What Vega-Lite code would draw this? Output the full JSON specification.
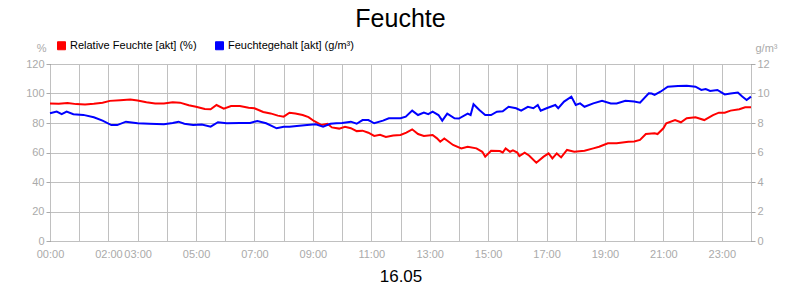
{
  "$schema": "https://vega.github.io/schema/vega-lite/v6.json",
  "width": 701,
  "height": 177,
  "autosize": {"type": "none"},
  "padding": {"left": 50, "top": 64, "right": 49, "bottom": 59},
  "background": "white",
  "config": {
    "view": {"stroke": "black", "strokeWidth": 1},
    "font": "Liberation Sans"
  },
  "title": {"text": "Feuchte", "fontSize": 25, "font": "Liberation Sans", "fontWeight": "normal", "color": "black", "anchor": "middle", "offset": 8},
  "datasets": {
    "rf": [
      {"h": 0.0, "v": 93.3}, {"h": 0.3, "v": 93.0}, {"h": 0.6, "v": 93.5}, {"h": 0.9, "v": 92.8}, {"h": 1.2, "v": 92.5},
      {"h": 1.5, "v": 93.0}, {"h": 1.8, "v": 93.8}, {"h": 2.05, "v": 95.0}, {"h": 2.4, "v": 95.5}, {"h": 2.75, "v": 96.0},
      {"h": 3.0, "v": 95.3}, {"h": 3.3, "v": 94.0}, {"h": 3.6, "v": 93.2}, {"h": 3.9, "v": 93.3}, {"h": 4.2, "v": 94.0},
      {"h": 4.45, "v": 93.8}, {"h": 4.75, "v": 92.0}, {"h": 5.0, "v": 91.0}, {"h": 5.3, "v": 89.5}, {"h": 5.5, "v": 89.3},
      {"h": 5.7, "v": 92.2}, {"h": 5.95, "v": 89.7}, {"h": 6.2, "v": 91.5}, {"h": 6.5, "v": 91.5}, {"h": 6.8, "v": 90.3},
      {"h": 7.0, "v": 90.0}, {"h": 7.3, "v": 87.5}, {"h": 7.55, "v": 86.5}, {"h": 7.8, "v": 85.0}, {"h": 8.0, "v": 84.3},
      {"h": 8.2, "v": 87.0}, {"h": 8.4, "v": 86.5}, {"h": 8.65, "v": 85.4}, {"h": 8.85, "v": 84.0}, {"h": 9.05, "v": 81.2},
      {"h": 9.3, "v": 78.6}, {"h": 9.5, "v": 79.5}, {"h": 9.65, "v": 77.0}, {"h": 9.9, "v": 76.2}, {"h": 10.1, "v": 77.5},
      {"h": 10.3, "v": 76.5}, {"h": 10.5, "v": 74.5}, {"h": 10.7, "v": 74.8}, {"h": 10.9, "v": 73.4}, {"h": 11.1, "v": 71.2},
      {"h": 11.3, "v": 72.0}, {"h": 11.5, "v": 70.5}, {"h": 11.75, "v": 71.5}, {"h": 12.0, "v": 71.9}, {"h": 12.2, "v": 73.5},
      {"h": 12.4, "v": 75.7}, {"h": 12.6, "v": 72.5}, {"h": 12.8, "v": 71.2}, {"h": 13.1, "v": 71.9}, {"h": 13.25, "v": 69.6},
      {"h": 13.36, "v": 67.3}, {"h": 13.5, "v": 69.5}, {"h": 13.8, "v": 65.1}, {"h": 14.08, "v": 62.8}, {"h": 14.3, "v": 63.9},
      {"h": 14.6, "v": 62.8}, {"h": 14.8, "v": 60.5}, {"h": 14.9, "v": 57.2}, {"h": 15.1, "v": 61.2}, {"h": 15.4, "v": 61.0},
      {"h": 15.5, "v": 60.0}, {"h": 15.6, "v": 62.8}, {"h": 15.75, "v": 60.5}, {"h": 15.85, "v": 61.5}, {"h": 16.0, "v": 60.0},
      {"h": 16.07, "v": 57.6}, {"h": 16.25, "v": 59.9}, {"h": 16.4, "v": 58.0}, {"h": 16.65, "v": 53.1}, {"h": 16.9, "v": 57.2},
      {"h": 17.07, "v": 59.4}, {"h": 17.2, "v": 56.0}, {"h": 17.35, "v": 59.4}, {"h": 17.5, "v": 56.7}, {"h": 17.7, "v": 61.7},
      {"h": 17.95, "v": 60.5}, {"h": 18.3, "v": 61.2}, {"h": 18.6, "v": 62.8}, {"h": 18.8, "v": 63.9}, {"h": 19.1, "v": 66.2},
      {"h": 19.4, "v": 66.2}, {"h": 19.8, "v": 67.3}, {"h": 20.0, "v": 67.5}, {"h": 20.2, "v": 68.5}, {"h": 20.4, "v": 72.5},
      {"h": 20.7, "v": 73.0}, {"h": 20.8, "v": 72.5}, {"h": 21.0, "v": 76.4}, {"h": 21.1, "v": 79.8}, {"h": 21.4, "v": 82.0},
      {"h": 21.6, "v": 80.5}, {"h": 21.8, "v": 83.2}, {"h": 22.1, "v": 83.9}, {"h": 22.4, "v": 82.0}, {"h": 22.7, "v": 85.4},
      {"h": 22.9, "v": 87.0}, {"h": 23.1, "v": 87.0}, {"h": 23.3, "v": 88.4}, {"h": 23.6, "v": 89.3}, {"h": 23.8, "v": 90.6},
      {"h": 24.0, "v": 90.6}
    ],
    "fg": [
      {"h": 0.0, "v": 8.66}, {"h": 0.23, "v": 8.77}, {"h": 0.4, "v": 8.6}, {"h": 0.57, "v": 8.77}, {"h": 0.8, "v": 8.59},
      {"h": 1.14, "v": 8.55}, {"h": 1.5, "v": 8.39}, {"h": 1.8, "v": 8.16}, {"h": 2.1, "v": 7.86}, {"h": 2.3, "v": 7.86},
      {"h": 2.6, "v": 8.09}, {"h": 3.0, "v": 7.98}, {"h": 3.4, "v": 7.95}, {"h": 3.9, "v": 7.91}, {"h": 4.2, "v": 8.0},
      {"h": 4.4, "v": 8.09}, {"h": 4.6, "v": 7.95}, {"h": 4.9, "v": 7.86}, {"h": 5.2, "v": 7.9}, {"h": 5.5, "v": 7.75},
      {"h": 5.75, "v": 8.05}, {"h": 6.05, "v": 7.98}, {"h": 6.5, "v": 8.0}, {"h": 6.85, "v": 8.0}, {"h": 7.1, "v": 8.14},
      {"h": 7.4, "v": 7.98}, {"h": 7.76, "v": 7.64}, {"h": 8.0, "v": 7.75}, {"h": 8.2, "v": 7.75}, {"h": 8.45, "v": 7.8},
      {"h": 8.8, "v": 7.86}, {"h": 9.1, "v": 7.91}, {"h": 9.35, "v": 7.75}, {"h": 9.6, "v": 7.95}, {"h": 9.8, "v": 7.98},
      {"h": 10.0, "v": 8.0}, {"h": 10.3, "v": 8.09}, {"h": 10.5, "v": 7.95}, {"h": 10.7, "v": 8.2}, {"h": 10.9, "v": 8.2},
      {"h": 11.1, "v": 7.98}, {"h": 11.4, "v": 8.16}, {"h": 11.6, "v": 8.32}, {"h": 12.0, "v": 8.32}, {"h": 12.18, "v": 8.43},
      {"h": 12.4, "v": 8.84}, {"h": 12.6, "v": 8.54}, {"h": 12.8, "v": 8.7}, {"h": 12.95, "v": 8.6}, {"h": 13.1, "v": 8.77},
      {"h": 13.3, "v": 8.54}, {"h": 13.43, "v": 8.16}, {"h": 13.6, "v": 8.63}, {"h": 13.85, "v": 8.32}, {"h": 14.0, "v": 8.3},
      {"h": 14.3, "v": 8.63}, {"h": 14.4, "v": 8.54}, {"h": 14.5, "v": 9.27}, {"h": 14.7, "v": 8.88}, {"h": 14.9, "v": 8.54},
      {"h": 15.1, "v": 8.54}, {"h": 15.3, "v": 8.77}, {"h": 15.5, "v": 8.8}, {"h": 15.7, "v": 9.1}, {"h": 15.96, "v": 9.0},
      {"h": 16.13, "v": 8.84}, {"h": 16.36, "v": 9.1}, {"h": 16.55, "v": 9.0}, {"h": 16.7, "v": 9.22}, {"h": 16.8, "v": 8.84},
      {"h": 17.0, "v": 9.0}, {"h": 17.3, "v": 9.22}, {"h": 17.4, "v": 9.0}, {"h": 17.6, "v": 9.45}, {"h": 17.85, "v": 9.79},
      {"h": 18.0, "v": 9.22}, {"h": 18.15, "v": 9.33}, {"h": 18.3, "v": 9.1}, {"h": 18.6, "v": 9.33}, {"h": 18.9, "v": 9.51},
      {"h": 19.2, "v": 9.33}, {"h": 19.4, "v": 9.33}, {"h": 19.7, "v": 9.51}, {"h": 20.0, "v": 9.45}, {"h": 20.2, "v": 9.38},
      {"h": 20.5, "v": 10.01}, {"h": 20.6, "v": 10.0}, {"h": 20.7, "v": 9.9}, {"h": 20.9, "v": 10.12}, {"h": 21.15, "v": 10.46},
      {"h": 21.5, "v": 10.51}, {"h": 21.8, "v": 10.53}, {"h": 22.1, "v": 10.46}, {"h": 22.3, "v": 10.24}, {"h": 22.45, "v": 10.3},
      {"h": 22.6, "v": 10.17}, {"h": 22.85, "v": 10.24}, {"h": 23.1, "v": 9.94}, {"h": 23.3, "v": 10.0}, {"h": 23.55, "v": 10.06},
      {"h": 23.7, "v": 9.79}, {"h": 23.85, "v": 9.56}, {"h": 24.0, "v": 9.79}
    ]
  },
  "encoding": {
    "x": {
      "field": "h", "type": "quantitative",
      "scale": {"domain": [0, 24], "nice": false, "zero": false},
      "axis": {
        "values": [0,1,2,3,4,5,6,7,8,9,10,11,12,13,14,15,16,17,18,19,20,21,22,23,24],
        "labelExpr": "(datum.value==0||datum.value==2||(datum.value%2==1&&datum.value!=1)) ? ((datum.value<10?'0':'')+datum.value+':00') : ''",
        "grid": true, "gridColor": "#c0c0c0", "gridWidth": 1,
        "ticks": false, "domain": false,
        "labelColor": "#aaaaaa", "labelFontSize": 11, "labelFont": "Liberation Sans", "labelPadding": 7,
        "labelFlush": false, "labelOverlap": false,
        "title": "16.05", "titleFontSize": 17, "titleFont": "Liberation Sans", "titleFontWeight": "normal", "titleColor": "black", "titlePadding": 9
      }
    }
  },
  "layer": [
    {
      "data": {"name": "rf"},
      "mark": {"type": "line", "strokeWidth": 2, "color": "#ff0000"},
      "encoding": {
        "y": {
          "field": "v", "type": "quantitative",
          "scale": {"domain": [0, 120], "nice": false},
          "axis": {
            "orient": "left", "values": [0,20,40,60,80,100,120],
            "grid": true, "gridColor": "#c0c0c0", "gridWidth": 1,
            "domain": false, "ticks": true, "tickColor": "#aaaaaa", "tickSize": 4,
            "labelColor": "#aaaaaa", "labelFontSize": 11, "labelFont": "Liberation Sans", "labelPadding": 2,
            "title": "%", "titleAngle": 0, "titleX": -4, "titleY": -16, "titleAlign": "right", "titleBaseline": "middle",
            "titleColor": "#aaaaaa", "titleFontSize": 11, "titleFontWeight": "normal", "titleFont": "Liberation Sans"
          }
        },
        "color": {
          "datum": "Relative Feuchte [akt] (%)",
          "type": "nominal",
          "scale": {"domain": ["Relative Feuchte [akt] (%)", "Feuchtegehalt [akt] (g/m³)"], "range": ["#ff0000", "#0000ff"]},
          "legend": {
            "orient": "none", "legendX": 6, "legendY": -24, "direction": "horizontal", "title": null,
            "symbolType": "square", "symbolSize": 64, "symbolStrokeWidth": 1,
            "labelFontSize": 11, "labelFont": "Liberation Sans", "labelColor": "black", "labelOffset": 3,
            "columnPadding": 16,
            "encode": {"symbols": {"update": {"fill": {"scale": "color", "field": "value"}, "stroke": {"value": "#222222"}, "strokeWidth": {"value": 1}, "opacity": {"value": 1}}}}
          }
        }
      }
    },
    {
      "data": {"name": "fg"},
      "mark": {"type": "line", "strokeWidth": 2, "color": "#0000ff"},
      "encoding": {
        "y": {
          "field": "v", "type": "quantitative",
          "scale": {"domain": [0, 12], "nice": false},
          "axis": {
            "orient": "right", "values": [0,2,4,6,8,10,12],
            "grid": false,
            "domain": false, "ticks": true, "tickColor": "#aaaaaa", "tickSize": 4,
            "labelColor": "#aaaaaa", "labelFontSize": 11, "labelFont": "Liberation Sans", "labelPadding": 2,
            "title": "g/m³", "titleAngle": 0, "titleX": 4, "titleY": -16, "titleAlign": "left", "titleBaseline": "middle",
            "titleColor": "#aaaaaa", "titleFontSize": 11, "titleFontWeight": "normal", "titleFont": "Liberation Sans"
          }
        },
        "color": {"datum": "Feuchtegehalt [akt] (g/m³)", "type": "nominal"}
      }
    }
  ],
  "resolve": {"scale": {"y": "independent"}}
}
